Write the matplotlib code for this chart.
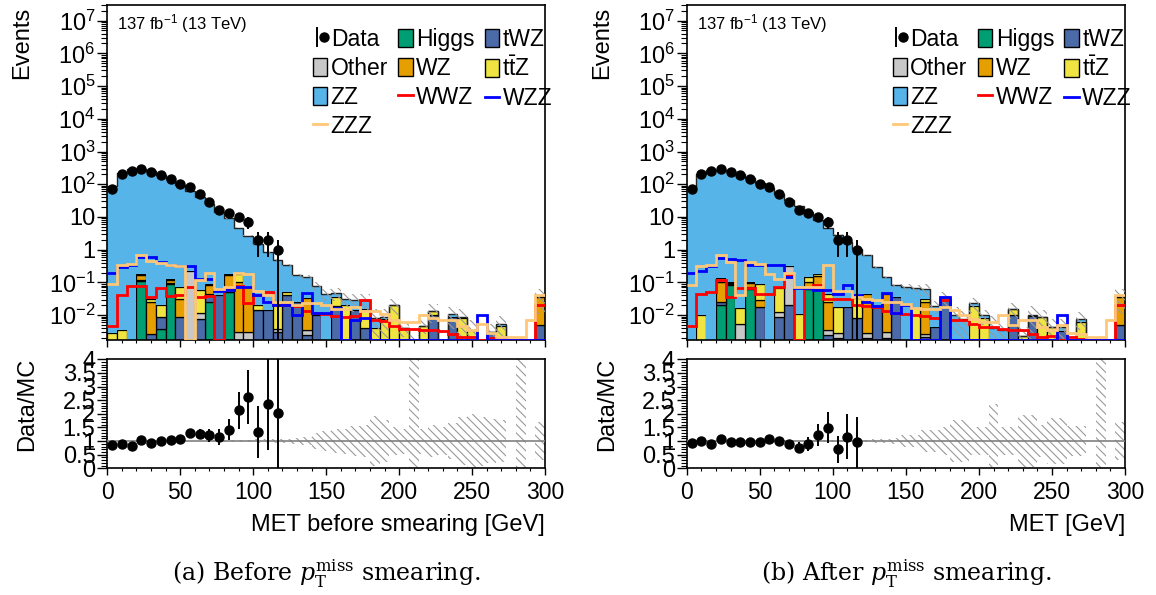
import numpy as np
import matplotlib
matplotlib.use('Agg')
import matplotlib.pyplot as plt
from matplotlib.patches import Patch
from matplotlib.lines import Line2D
from matplotlib.legend_handler import HandlerTuple
from matplotlib.ticker import FixedLocator, FixedFormatter, MultipleLocator, LogLocator, NullFormatter

plt.rcParams['font.family'] = ['Liberation Sans', 'DejaVu Sans']
plt.rcParams['mathtext.fontset'] = 'custom'
plt.rcParams['mathtext.rm'] = 'Liberation Sans'
plt.rcParams['mathtext.it'] = 'Liberation Sans:italic'
plt.rcParams['mathtext.bf'] = 'Liberation Sans:bold'
plt.rcParams['hatch.linewidth'] = 0.8

# 45 bins of MET, 0-300 GeV
edges = np.linspace(0, 300, 46)

# observed events (same in both panels)
data_counts = [73, 205, 247, 300, 237, 196, 148, 104, 82, 50, 29, 16, 13, 10, 7,
               2, 2, 1, 0, 0, 0, 0, 0, 0, 0, 0, 0, 0, 0, 0,
               0, 0, 0, 0, 0, 0, 0, 0, 0, 0, 0, 0, 0, 0, 0]

# ---- (a) before smearing ----
pre_zz = [86.5, 226, 298, 291, 252, 196, 140, 96, 63, 40, 24, 14, 9.0, 4.5, 2.6,
          1.48, 0.84, 0.47, 0.28, 0.145, 0.115, 0.07, 0.045, 0.012, 0.012, 0.014, 0.0125, 0.004, 0.0015, 0,
          0, 0.0005, 0, 0, 0.0008, 0.002, 0.0005, 0, 0.0006, 0, 0.0007, 0, 0.0004, 0, 0]
pre_higgs = [0, 0, 0, 0.11, 0, 0.0038, 0.09, 0, 0, 0, 0.025, 0, 0.05, 0, 0,
             0, 0, 0, 0, 0, 0, 0, 0, 0, 0, 0, 0, 0, 0, 0,
             0, 0, 0, 0, 0, 0, 0, 0, 0, 0, 0, 0, 0, 0, 0]
pre_twz = [0, 0, 0, 0.008, 0.0027, 0.005, 0.005, 0.0087, 0, 0.0078, 0.02, 0.04, 0, 0.0015, 0,
           0.014, 0.014, 0.003, 0.04, 0.025, 0.0025, 0.01, 0, 0.019, 0, 0.014, 0.004, 0, 0, 0.0015,
           0, 0, 0, 0.0098, 0, 0.009, 0, 0, 0, 0.003, 0, 0, 0, 0, 0.005]
pre_other = [0, 0, 0, 0, 0, 0, 0, 0, 0.22, 0.004, 0, 0, 0, 0.0015, 0.003,
             0, 0, 0.0008, 0, 0, 0.001, 0, 0, 0, 0, 0, 0, 0, 0, 0,
             0, 0, 0, 0, 0, 0, 0, 0, 0, 0, 0, 0, 0, 0, 0]
pre_wz = [0, 0, 0, 0.045, 0.022, 0, 0.025, 0.023, 0, 0, 0.036, 0, 0.12, 0.1, 0.07,
          0, 0, 0, 0, 0, 0.03, 0, 0, 0, 0, 0, 0, 0, 0, 0,
          0, 0, 0, 0, 0, 0, 0, 0, 0, 0, 0, 0, 0, 0, 0.03]
pre_ttz = [0.0028, 0.0034, 0, 0.015, 0.007, 0.011, 0.01, 0.04, 0, 0.045, 0.006, 0, 0.012, 0.08, 0,
           0.006, 0, 0.022, 0.012, 0, 0, 0, 0, 0.016, 0.02, 0, 0.0115, 0.004, 0.0075, 0.019,
           0.004, 0, 0.0048, 0.004, 0, 0, 0.008, 0.0036, 0, 0, 0.0048, 0, 0, 0, 0.003]
pre_relunc = [0.01, 0.006, 0.005, 0.005, 0.006, 0.007, 0.008, 0.01, 0.012, 0.015, 0.02, 0.025, 0.03, 0.04, 0.05,
              0.06, 0.06, 0.07, 0.07, 0.1, 0.16, 0.28, 0.38, 0.43, 0.46, 0.55, 0.59, 0.92, 0.77, 0.5,
              0.46, 4.0, 0.46, 0.59, 0.5, 0.65, 0.87, 0.99, 0.9, 0.8, 0.77, 0, 4.0, 0, 0.71]
pre_wwz = [0.0046, 0.04, 0.076, 0.076, 0.037, 0.069, 0.038, 0.042, 0.072, 0.035, 0.039, 0, 0.064, 0.08, 0.023,
           0.04, 0.05, 0.021, 0.02, 0.019, 0.013, 0.012, 0.011, 0.0091, 0.0087, 0.0091, 0.028, 0.0069, 0.0066, 0.0048,
           0.0038, 0.0038, 0.0036, 0.0034, 0.0032, 0.0026, 0.0022, 0.0022, 0, 0.002, 0.0019, 0, 0, 0, 0.02]
pre_wzz = [0.19, 0.3, 0.35, 0.6, 0.6, 0.42, 0.33, 0.32, 0.32, 0.13, 0.125, 0.055, 0.057, 0.072, 0.074,
           0.04, 0.025, 0.021, 0.021, 0.01, 0.047, 0.012, 0.012, 0.0166, 0, 0.0072, 0.0083, 0, 0, 0,
           0, 0, 0, 0, 0, 0, 0, 0, 0.0098, 0, 0, 0, 0, 0, 0]
pre_zzz = [0.091, 0.33, 0.37, 0.67, 0.45, 0.38, 0.33, 0.32, 0, 0.115, 0.19, 0.064, 0.07, 0.19, 0.18,
           0.054, 0.04, 0.025, 0.025, 0.021, 0.024, 0.023, 0.021, 0.0155, 0.0155, 0.018, 0.0138, 0.0132, 0.011, 0.0069,
           0.006, 0.006, 0.0098, 0.0083, 0.0069, 0.0069, 0.0048, 0.0034, 0.0054, 0.0028, 0.0022, 0.0022, 0.0022, 0.0069, 0.04]

# ---- (b) after smearing ----
post_zz = [77.7, 203, 274, 275, 247, 204, 151, 109, 76, 50.4, 32.7, 21, 14.3, 8.0, 4.65,
           2.84, 1.70, 1.02, 0.62, 0.28, 0.103, 0.046, 0.072, 0.05, 0.031, 0.015, 0, 0.009, 0.0078, 0.0035,
           0.0015, 0.004, 0.0035, 0, 0, 0.0005, 0, 0, 0.001, 0.0005, 0.0018, 0, 0.0004, 0, 0]
post_higgs = [0, 0, 0, 0.02, 0.085, 0, 0.065, 0, 0, 0, 0, 0, 0.065, 0.065, 0,
              0, 0, 0, 0, 0, 0, 0, 0, 0, 0, 0, 0, 0, 0, 0,
              0, 0, 0, 0, 0, 0, 0, 0, 0, 0, 0, 0, 0, 0, 0]
post_twz = [0, 0, 0, 0.005, 0.004, 0, 0.005, 0.018, 0, 0.0087, 0.02, 0, 0, 0, 0.0025,
            0.002, 0.018, 0.008, 0.002, 0.018, 0.002, 0.035, 0, 0, 0.0022, 0.0043, 0.035, 0.001, 0, 0,
            0, 0, 0, 0.0098, 0, 0.0095, 0, 0.0005, 0.0033, 0, 0, 0, 0, 0, 0.005]
post_other = [0, 0, 0, 0, 0, 0.0055, 0, 0, 0, 0.0036, 0.3, 0, 0, 0, 0.001,
              0.0008, 0, 0, 0.0008, 0, 0.001, 0, 0, 0, 0.0005, 0, 0, 0, 0, 0,
              0, 0, 0, 0, 0, 0, 0, 0, 0, 0, 0, 0, 0, 0, 0]
post_wz = [0, 0, 0, 0.075, 0.01, 0, 0.025, 0.012, 0, 0, 0, 0, 0.04, 0.09, 0.022,
           0, 0, 0, 0.042, 0, 0.04, 0, 0, 0, 0.022, 0, 0, 0, 0, 0,
           0, 0, 0, 0, 0, 0, 0, 0, 0, 0, 0, 0, 0, 0, 0.03]
post_ttz = [0, 0.01, 0, 0.035, 0.003, 0.0105, 0.005, 0.06, 0, 0.053, 0, 0.011, 0.04, 0.02, 0.02,
            0.015, 0, 0.025, 0, 0, 0, 0, 0, 0.017, 0.007, 0, 0, 0, 0, 0.0195,
            0.0083, 0, 0, 0.0057, 0.0023, 0, 0.009, 0.0038, 0, 0, 0.006, 0, 0, 0, 0.003]
post_relunc = [0.01, 0.006, 0.005, 0.005, 0.006, 0.007, 0.008, 0.01, 0.012, 0.015, 0.02, 0.02, 0.025, 0.03, 0.03,
               0.035, 0.035, 0.04, 0.04, 0.06, 0.08, 0.12, 0.22, 0.22, 0.4, 0.4, 0.5, 0.77, 0.77, 0.5,
               0.5, 1.36, 0.5, 0.5, 0.95, 0.95, 0.59, 0.83, 0.83, 0.55, 0.55, 0, 4.0, 0, 0.71]
post_wwz = [0.0046, 0.045, 0.051, 0.115, 0.035, 0.069, 0.066, 0.043, 0.043, 0.072, 0.166, 0, 0.069, 0.081, 0.032,
            0.032, 0.032, 0.021, 0.019, 0.018, 0.013, 0.0115, 0.011, 0.0098, 0.0091, 0.0083, 0.028, 0.0072, 0.0069, 0.0054,
            0.0044, 0.0042, 0.0037, 0.0034, 0.0034, 0.0026, 0.0022, 0.0023, 0, 0.0022, 0.0019, 0, 0, 0, 0.021]
post_wzz = [0.195, 0.22, 0.31, 0.57, 0.52, 0.49, 0.33, 0.33, 0.33, 0.33, 0.145, 0.069, 0.069, 0.06, 0.06,
            0.043, 0.081, 0.04, 0.025, 0.019, 0.047, 0.012, 0.02, 0, 0, 0, 0.037, 0, 0, 0,
            0, 0, 0, 0, 0, 0, 0, 0, 0.0098, 0, 0, 0, 0, 0, 0]
post_zzz = [0.085, 0.32, 0.33, 0.67, 0.42, 0.04, 0.42, 0.36, 0.18, 0.13, 0.19, 0.07, 0.07, 0.07, 0.33,
            0.055, 0.055, 0.035, 0.031, 0.028, 0.025, 0.025, 0.022, 0.0166, 0.0155, 0.0155, 0.018, 0.0145, 0.0098, 0.0078,
            0.006, 0.006, 0.0098, 0.005, 0.0072, 0.0069, 0.0043, 0.0035, 0.0051, 0.0028, 0.0026, 0.0022, 0.0022, 0.0069, 0.042]

ratio_ticks = [0, 0.5, 1, 1.5, 2, 2.5, 3, 3.5, 4]
ratio_labels = ['0', '0.5', '1', '1.5', '2', '2.5', '3', '3.5', '4']
log_ticks = [1e-2, 1e-1, 1, 10, 1e2, 1e3, 1e4, 1e5, 1e6, 1e7]
log_labels = [r'$10^{-2}$', r'$10^{-1}$', '1', '10', r'$10^{2}$', r'$10^{3}$',
              r'$10^{4}$', r'$10^{5}$', r'$10^{6}$', r'$10^{7}$']

# colours
c_zz, c_higgs, c_twz = '#57b4e9', '#009e73', '#4a6aa8'
c_other, c_wz, c_ttz = '#c8c8c8', '#e69f00', '#f0e442'
c_wwz, c_wzz, c_zzz = '#ff0000', '#0000ff', '#ffc878'

ylo, yhi = 0.0018, 3e7
W, H = 1156, 595


def box(x0, x1, y0, y1):
    return [x0 / W, 1 - y1 / H, (x1 - x0) / W, (y1 - y0) / H]


def draw_panel(fig, x0, x1, stack, signals, relunc, xlabel, caption):
    ax = fig.add_axes(box(x0, x1, 5, 339.5))
    rax = fig.add_axes(box(x0, x1, 359.3, 468.3))
    left = edges[:-1]
    width = np.diff(edges)
    centers = 0.5 * (edges[:-1] + edges[1:])

    ax.set_yscale('log')
    cum = np.zeros(len(left))
    for name, vals, col in stack:
        v = np.array(vals, dtype=float)
        m = v > 0
        lw = 0 if name == 'ZZ' else 0.9
        ax.bar(left[m], v[m], width=width[m], bottom=cum[m], align='edge',
               color=col, edgecolor='black', linewidth=lw, zorder=2)
        cum = cum + v
    total = cum
    ax.stairs(total, edges, baseline=None, color='#222222', lw=1.0, zorder=2.5)

    rel = np.array(relunc, dtype=float)
    m = total > 0
    up = total * (1 + rel)
    lo = np.clip(total * (1 - rel), 1e-6, None)
    ax.bar(left[m], (up - lo)[m], width=width[m], bottom=lo[m], align='edge', fill=False,
           hatch='\\\\\\\\', edgecolor='#9a9a9a', linewidth=0, zorder=3)

    for vals, col in signals:
        v = np.maximum(np.array(vals, dtype=float), ylo)
        ax.stairs(v, edges, baseline=None, color=col, lw=2.0, zorder=4)

    d = np.array(data_counts, dtype=float)
    md = d > 0
    ax.errorbar(centers[md], d[md], yerr=np.sqrt(d[md]), fmt='o', color='black',
                ms=6.5, elinewidth=1.4, capsize=0, zorder=6)

    ax.set_xlim(0, 300)
    ax.set_ylim(ylo, yhi)
    ax.yaxis.set_major_locator(FixedLocator(log_ticks))
    ax.yaxis.set_major_formatter(FixedFormatter(log_labels))
    ax.yaxis.set_minor_locator(LogLocator(base=10, subs=np.arange(2, 10), numticks=100))
    ax.yaxis.set_minor_formatter(NullFormatter())
    ax.xaxis.set_major_locator(MultipleLocator(50))
    ax.xaxis.set_minor_locator(MultipleLocator(10))
    ax.tick_params(axis='x', labelbottom=False)
    ax.tick_params(axis='y', which='major', direction='out', length=7.5, width=1, labelsize=17, pad=1)
    ax.tick_params(axis='y', which='minor', direction='out', length=4, width=0.8)
    ax.tick_params(axis='x', which='major', direction='out', length=5, width=1)
    ax.tick_params(axis='x', which='minor', direction='out', length=2.5, width=0.8)
    for s in ax.spines.values():
        s.set_linewidth(1.2)

    ax.text(0.023, 0.946, r'137 fb$^{-1}$ (13 TeV)', transform=ax.transAxes,
            fontsize=12, ha='left', va='center')

    data_h = (Line2D([], [], color='black', marker='|', ms=15, mew=1.4, ls='none'),
              Line2D([], [], color='black', marker='o', ms=6.5, ls='none'))
    handles = [data_h,
               Patch(facecolor=c_other, edgecolor='black', lw=1),
               Patch(facecolor=c_zz, edgecolor='black', lw=1),
               Line2D([], [], color=c_zzz, lw=2),
               Patch(facecolor=c_higgs, edgecolor='black', lw=1),
               Patch(facecolor=c_wz, edgecolor='black', lw=1),
               Line2D([], [], color=c_wwz, lw=2),
               Patch(facecolor=c_twz, edgecolor='black', lw=1),
               Patch(facecolor=c_ttz, edgecolor='black', lw=1),
               Line2D([], [], color=c_wzz, lw=2)]
    names = ['Data', 'Other', 'ZZ', 'ZZZ', 'Higgs', 'WZ', 'WWZ', 'tWZ',
             r't$\bar{\mathrm{t}}$Z', 'WZZ']
    ax.legend(handles, names, ncol=3, loc='upper left', bbox_to_anchor=(0.47, 0.932),
              frameon=False, fontsize=16.5, handlelength=0.62, handleheight=0.85,
              handletextpad=0.15, columnspacing=0.45, labelspacing=0.26,
              borderpad=0, borderaxespad=0,
              handler_map={tuple: HandlerTuple(ndivide=None, pad=0)})

    # ratio panel
    rax.bar(left[m], (2 * rel)[m], width=width[m], bottom=(1 - rel)[m], align='edge', fill=False,
            hatch='\\\\\\\\', edgecolor='#9a9a9a', linewidth=0, zorder=2)
    rax.axhline(1, color='#808080', lw=1.2, zorder=3)
    ratio = d[md] / total[md]
    rerr = np.sqrt(d[md]) / total[md]
    rax.errorbar(centers[md], ratio, yerr=rerr, fmt='o', color='black', ms=6.5,
                 elinewidth=1.4, capsize=0, zorder=5)
    rax.set_xlim(0, 300)
    rax.set_ylim(0, 4)
    rax.yaxis.set_major_locator(FixedLocator(ratio_ticks))
    rax.yaxis.set_major_formatter(FixedFormatter(ratio_labels))
    rax.yaxis.set_minor_locator(MultipleLocator(0.1))
    rax.xaxis.set_major_locator(MultipleLocator(50))
    rax.xaxis.set_minor_locator(MultipleLocator(10))
    rax.tick_params(axis='y', which='major', direction='out', length=7.5, width=1, labelsize=17, pad=1)
    rax.tick_params(axis='y', which='minor', direction='out', length=4, width=0.8)
    rax.tick_params(axis='x', which='major', direction='out', length=5, width=1, labelsize=16.5, pad=4)
    rax.tick_params(axis='x', which='minor', direction='out', length=2.5, width=0.8)
    for s in rax.spines.values():
        s.set_linewidth(1.2)

    fig.text((x0 - 85) / W, 1 - 7 / H, 'Events', rotation=90, ha='center', va='top', fontsize=17)
    fig.text((x0 - 80) / W, 1 - 358 / H, 'Data/MC', rotation=90, ha='center', va='top', fontsize=17)
    fig.text(x1 / W, 1 - 525 / H, xlabel, ha='right', va='center', fontsize=17)
    fig.text((x0 + x1) / 2 / W, 1 - 574 / H, caption, ha='center', va='center', fontsize=17,
             family='DejaVu Serif', math_fontfamily='dejavuserif')


fig = plt.figure(figsize=(11.56, 5.95), dpi=100)

draw_panel(fig, 107.3, 545,
           [('Higgs', pre_higgs, c_higgs), ('tWZ', pre_twz, c_twz), ('Other', pre_other, c_other),
            ('WZ', pre_wz, c_wz), ('ttZ', pre_ttz, c_ttz), ('ZZ', pre_zz, c_zz)],
           [(pre_wwz, c_wwz), (pre_wzz, c_wzz), (pre_zzz, c_zzz)],
           pre_relunc, 'MET before smearing [GeV]',
           r'(a) Before $p_{\mathrm{T}}^{\mathrm{miss}}$ smearing.')

draw_panel(fig, 686.7, 1125,
           [('Higgs', post_higgs, c_higgs), ('tWZ', post_twz, c_twz), ('Other', post_other, c_other),
            ('WZ', post_wz, c_wz), ('ttZ', post_ttz, c_ttz), ('ZZ', post_zz, c_zz)],
           [(post_wwz, c_wwz), (post_wzz, c_wzz), (post_zzz, c_zzz)],
           post_relunc, 'MET [GeV]',
           r'(b) After $p_{\mathrm{T}}^{\mathrm{miss}}$ smearing.')

fig.savefig('out.png', dpi=100)
